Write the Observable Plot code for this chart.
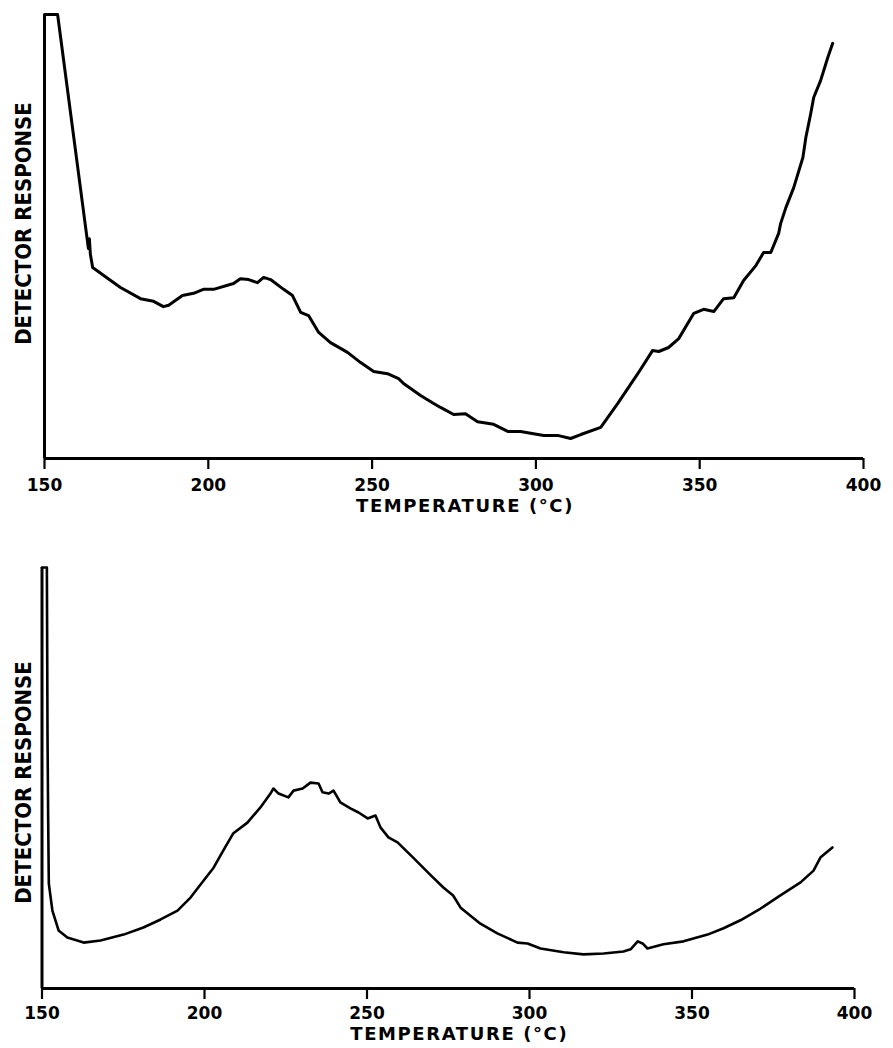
<!DOCTYPE html>
<html>
<head>
<meta charset="utf-8">
<script src="https://cdn.jsdelivr.net/npm/d3@7"></script>
<script src="https://cdn.jsdelivr.net/npm/@observablehq/plot@0.6"></script>
<style>
  html, body { margin: 0; padding: 0; background: #fff; overflow: hidden; }
  #chart svg { display: block; }
</style>
</head>
<body>
<div id="chart"></div>
<script>
// ---- Data ----
const xTicks = [150, 200, 250, 300, 350, 400];
const xLabel = "TEMPERATURE (°C)";
const yLabel = "DETECTOR RESPONSE";

// Top panel
const topTemp = [150, 154.0, 163.4, 163.7, 164.0, 164.7, 170.2, 173.2, 179.3, 183.3, 186.3, 187.9, 192.1, 195.5, 198.5, 201.6, 207.7, 209.8, 212.3, 215.0, 216.9, 219.0, 223.0, 225.7, 228.2, 230.6, 233.7, 237.3, 242.5, 246.5, 250.5, 254.7, 258.1, 259.6, 264.8, 268.8, 270.9, 274.9, 278.5, 282.2, 287.1, 291.4, 295.3, 302.4, 306.6, 310.6, 313.7, 319.8, 325.0, 331.1, 335.6, 337.5, 340.5, 343.6, 348.2, 351.2, 354.3, 357.3, 360.4, 363.4, 367.2, 369.5, 371.7, 374.1, 374.7, 376.3, 378.7, 381.5, 382.4, 383.9, 384.8, 386.9, 389.1, 390.6];
const topResponse = [100, 100, 47.3, 49.5, 46.0, 43.0, 40.1, 38.5, 36.0, 35.4, 34.2, 34.5, 36.7, 37.2, 38.1, 38.1, 39.4, 40.5, 40.3, 39.6, 40.8, 40.3, 38.1, 36.7, 32.9, 32.2, 28.4, 26.1, 23.9, 21.6, 19.6, 19.1, 18.0, 16.9, 14.2, 12.4, 11.5, 9.9, 10.1, 8.3, 7.7, 6.1, 6.1, 5.2, 5.2, 4.5, 5.4, 7.0, 12.4, 19.1, 24.3, 24.1, 25.0, 27.0, 32.7, 33.6, 33.1, 36.0, 36.2, 40.1, 43.5, 46.4, 46.4, 50.7, 52.9, 56.5, 61.0, 67.8, 72.3, 77.7, 81.3, 85.1, 90.3, 93.5];

// Bottom panel
const bottomTemp = [150, 151.5, 151.7, 151.9, 152.1, 153.2, 155.1, 157.8, 162.8, 168.0, 175.1, 181.2, 186.5, 191.7, 195.7, 199.8, 202.8, 205.8, 208.8, 213.2, 217.2, 220.3, 221.2, 222.8, 225.8, 227.4, 230.2, 232.6, 235.1, 236.3, 238.2, 239.7, 241.8, 244.9, 247.4, 250.2, 252.6, 254.2, 256.6, 259.4, 264.2, 269.5, 273.5, 276.5, 278.8, 284.9, 290.1, 296.3, 299.4, 303.4, 310.5, 316.6, 322.8, 328.9, 331.1, 333.3, 334.8, 336.3, 341.2, 347.4, 354.8, 359.7, 364.9, 371.1, 377.2, 383.4, 387.4, 389.5, 393.2];
const bottomResponse = [100, 100, 60, 40, 24.9, 18.5, 13.8, 12.1, 10.9, 11.4, 12.8, 14.5, 16.4, 18.5, 21.6, 25.7, 28.7, 32.8, 36.8, 39.4, 43.0, 46.3, 47.5, 46.3, 45.4, 47.0, 47.5, 48.9, 48.7, 46.6, 46.3, 47.0, 44.2, 42.8, 41.8, 40.4, 41.1, 38.2, 35.9, 34.7, 31.1, 27.0, 24.0, 22.1, 19.2, 15.4, 13.1, 10.9, 10.7, 9.5, 8.6, 8.1, 8.3, 8.8, 9.3, 11.2, 10.7, 9.5, 10.5, 11.2, 12.8, 14.3, 16.2, 19.0, 22.1, 25.2, 28.0, 31.1, 33.5];

const topData = topTemp.map((t, i) => ({temp: t, response: topResponse[i]}));
const bottomData = bottomTemp.map((t, i) => ({temp: t, response: bottomResponse[i]}));

function panel(data, cfg) {
  return Plot.plot({
    width: 893,
    height: cfg.height,
    marginLeft: cfg.marginLeft,
    marginRight: cfg.marginRight,
    marginTop: cfg.marginTop,
    marginBottom: cfg.marginBottom,
    style: {fontFamily: "'DejaVu Sans', sans-serif", fontSize: "17px", fontWeight: "bold", color: "#000", background: "#fff"},
    x: {domain: [150, 400]},
    y: {domain: [0, 100], axis: null},
    marks: [
      Plot.axisX({ticks: xTicks, tickSize: 11, tickPadding: cfg.tickPadding, strokeWidth: 2.2, tickFormat: d => String(d), label: null, fontSize: 17, fontWeight: "bold"}),
      Plot.ruleY([0], {stroke: "#000", strokeWidth: 3}),
      Plot.ruleX([150], {stroke: "#000", strokeWidth: 3}),
      Plot.line(data, {x: "temp", y: "response", stroke: "#000", strokeWidth: cfg.lineWidth, strokeLinejoin: "round", strokeLinecap: "round"}),
      Plot.text([xLabel], {frameAnchor: "bottom", dx: 11, dy: cfg.titleDy, fontSize: 18, fontWeight: "bold"}),
      Plot.text([yLabel], {frameAnchor: "left", textAnchor: "middle", rotate: -90, dx: cfg.ylabDx, dy: cfg.ylabDy, fontSize: 22, fontWeight: "bold"})
    ]
  });
}

const topPanel = panel(topData, {height: 530, marginLeft: 44, marginRight: 30, marginTop: 14, marginBottom: 72, tickPadding: 9, lineWidth: 3, titleDy: 53, ylabDx: -21, ylabDy: -13});
const bottomPanel = panel(bottomData, {height: 518, marginLeft: 41.5, marginRight: 39, marginTop: 37, marginBottom: 60, tickPadding: 7, lineWidth: 2.6, titleDy: 51, ylabDx: -18.5, ylabDy: 4.5});

const el = document.getElementById("chart");
el.appendChild(topPanel);
el.appendChild(bottomPanel);
el.querySelectorAll("text").forEach(t => {
  if (t.textContent === xLabel) t.setAttribute("letter-spacing", "1.6");
  if (t.textContent === yLabel) t.style.fontStretch = "condensed";
});
</script>
</body>
</html>
